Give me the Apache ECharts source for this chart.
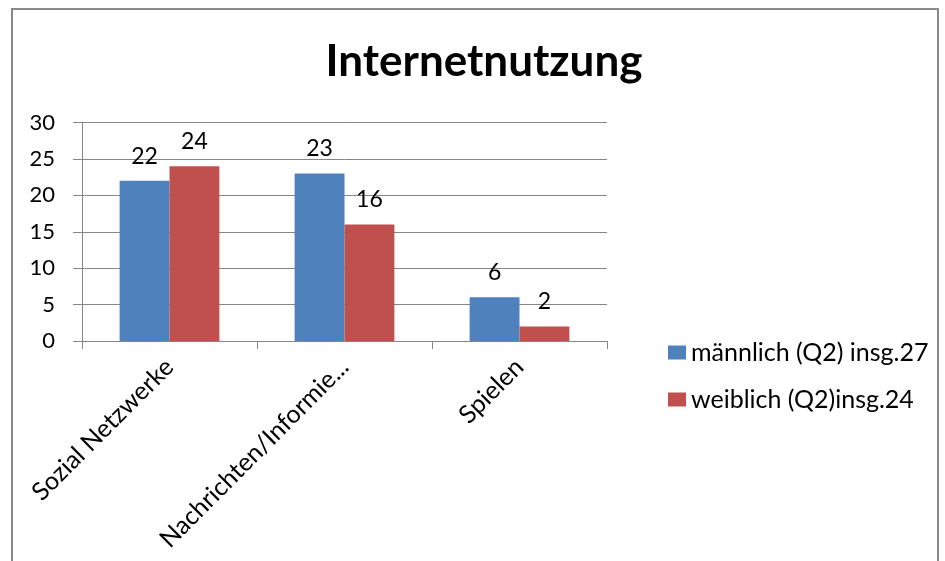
<!DOCTYPE html>
<html>
<head>
<meta charset="utf-8">
<script src="https://cdn.jsdelivr.net/npm/echarts@6/dist/echarts.min.js"></script>
<style>html,body{margin:0;padding:0;background:#fff;}#c{width:945px;height:561px;}</style>
</head>
<body>
<div id="c"></div>
<script>
const categories = ['Sozial Netzwerke', 'Nachrichten/Informie...', 'Spielen'];
const seriesNames = ['männlich (Q2) insg.27', 'weiblich (Q2)insg.24'];
const maleValues = [22, 23, 6];
const femaleValues = [24, 16, 2];
const yTicks = { min: 0, max: 30, interval: 5 };
const titleText = 'Internetnutzung';

const FONT = 'Lato, "Liberation Sans", sans-serif';
const chart = echarts.init(document.getElementById('c'), null, { renderer: 'canvas' });
const labelCfg = {
  show: true, position: 'top', distance: 13, color: '#000',
  fontFamily: FONT, fontSize: 23
};
chart.setOption({
  animation: false,
  backgroundColor: '#fff',
  graphic: [{
    type: 'rect', silent: true,
    shape: { x: 12, y: 9, width: 926, height: 620 },
    style: { fill: 'none', stroke: '#8a8a8a', lineWidth: 2 }
  }],
  title: {
    text: titleText, left: 479, top: 35, textAlign: 'center',
    textStyle: { fontFamily: FONT, fontWeight: 'bold', fontSize: 44, color: '#000' }
  },
  legend: {
    orient: 'vertical', left: 663, top: 335, itemWidth: 18, itemHeight: 14,
    itemGap: 22, icon: 'rect',
    textStyle: { fontFamily: FONT, fontSize: 25, color: '#000' },
    data: seriesNames
  },
  grid: { left: 82, right: 338, top: 122.5, bottom: 220, containLabel: false },
  xAxis: {
    type: 'category', data: categories,
    axisLine: { show: true, lineStyle: { color: '#868686', width: 1 } },
    axisTick: { show: true, length: 8, lineStyle: { color: '#868686' } },
    axisLabel: {
      rotate: 45, margin: 22, color: '#000', fontFamily: FONT, fontSize: 25,
      padding: [56, 0, 0, 0], interval: 0
    }
  },
  yAxis: {
    type: 'value', min: yTicks.min, max: yTicks.max, interval: yTicks.interval,
    axisLine: { show: true, lineStyle: { color: '#868686' } },
    axisTick: { show: true, inside: false, length: 9, lineStyle: { color: '#868686' } },
    splitLine: { show: true, lineStyle: { color: '#868686', width: 1 } },
    axisLabel: { margin: 27, color: '#000', fontFamily: FONT, fontSize: 22 }
  },
  series: [
    { name: seriesNames[0], type: 'bar', data: maleValues, barGap: '0%', barCategoryGap: '43%',
      itemStyle: { color: '#4F81BD' }, label: labelCfg },
    { name: seriesNames[1], type: 'bar', data: femaleValues, barGap: '0%', barCategoryGap: '43%',
      itemStyle: { color: '#C0504D' }, label: labelCfg }
  ]
});
</script>
</body>
</html>
